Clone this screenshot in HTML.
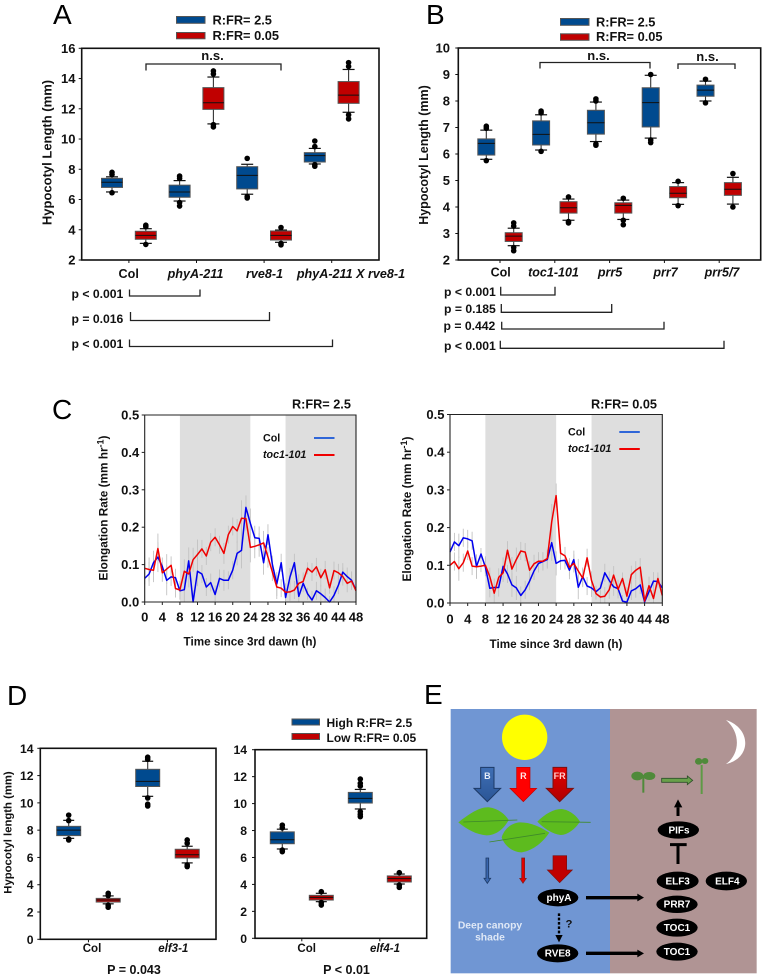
<!DOCTYPE html>
<html lang="en">
<head>
<meta charset="utf-8">
<title>Hypocotyl length figure</title>
<style>
html,body{margin:0;padding:0;background:#fff;}
svg{display:block;}
text{font-family:"Liberation Sans",Arial,sans-serif;font-weight:bold;fill:#111;}
.pl{font-size:28px;font-weight:normal;fill:#000;}
.t13{font-size:12.2px;}
.ns{font-size:13px;}
.lg{font-size:12.8px;}
.lgd{font-size:12px;}
.it{font-style:italic;}
.br{fill:none;stroke:#222;stroke-width:1.3;}
.ov{font-size:30px;fill:#fff;text-anchor:middle;}
</style>
</head>
<body>
<svg id="fig" xmlns="http://www.w3.org/2000/svg" width="762" height="979" viewBox="0 0 762 979">

<!-- Panel letters -->
<text class="pl" x="53" y="24">A</text>
<text class="pl" x="426" y="24">B</text>
<text class="pl" x="52" y="419">C</text>
<text class="pl" x="7" y="705">D</text>
<text class="pl" x="424" y="704">E</text>

<!-- Panel A annotations -->
<g>
<rect x="176.500" y="16.500" width="28.500" height="6.800" fill="#004a8f" stroke="#555"/>
<rect x="176.500" y="32.500" width="28.500" height="6.300" fill="#c00000" stroke="#555"/>
<text class="lg" x="212.500" y="24.500">R:FR= 2.5</text>
<text class="lg" x="212.500" y="40">R:FR= 0.05</text>
<path class="br" d="M146 70.500V64H281V70.500"/>
<text class="ns" x="212.500" y="60" text-anchor="middle">n.s.</text>
<text class="t13" x="71.500" y="298">p &lt; 0.001</text>
<text class="t13" x="71.500" y="323">p = 0.016</text>
<text class="t13" x="71.500" y="348">p &lt; 0.001</text>
<path class="br" d="M129.500 289.500V296H200V289.500"/>
<path class="br" d="M130.500 312V320.500H269.500V312"/>
<path class="br" d="M129.500 339.500V346.500H332.500V339.500"/>
</g>

<!-- Panel B annotations -->
<g>
<rect x="560.500" y="18.500" width="28.500" height="6.800" fill="#004a8f" stroke="#555"/>
<rect x="560.500" y="33.800" width="28.500" height="6.500" fill="#c00000" stroke="#555"/>
<text class="lg" x="596" y="26.500">R:FR= 2.5</text>
<text class="lg" x="596" y="41">R:FR= 0.05</text>
<path class="br" d="M540 68.500V62.500H650V68.500"/>
<path class="br" d="M678 69V64H735V69"/>
<text class="ns" x="598.500" y="60" text-anchor="middle">n.s.</text>
<text class="ns" x="707.500" y="61" text-anchor="middle">n.s.</text>
<text class="t13" x="444" y="296">p &lt; 0.001</text>
<text class="t13" x="444" y="313">p = 0.185</text>
<text class="t13" x="443.500" y="330">p = 0.442</text>
<text class="t13" x="444" y="350">p &lt; 0.001</text>
<path class="br" d="M500.700 286.700V295H555V286.700"/>
<path class="br" d="M501.300 304V312.300H611.700V304"/>
<path class="br" d="M501.700 321.700V329H664V321.700"/>
<path class="br" d="M500.300 340.700V348.300H724V340.700"/>
</g>

<!-- Panel D annotations -->
<g>
<rect x="292" y="719" width="27.500" height="6" fill="#004a8f" stroke="#555"/>
<rect x="292" y="733.500" width="27.500" height="6" fill="#c00000" stroke="#555"/>
<text class="lgd" x="326.500" y="727">High R:FR= 2.5</text>
<text class="lgd" x="326.500" y="742">Low R:FR= 0.05</text>
<text x="134" y="974" font-size="12.5" text-anchor="middle">P = 0.043</text>
<text x="346.500" y="974" font-size="12.5" text-anchor="middle">P &lt; 0.01</text>
</g>

<!-- Panel E diagram, drawn at 3x and scaled down -->
<g transform="translate(430,690) scale(0.33333)">
<defs>
<linearGradient id="bArrow" x1="0" y1="0" x2="0" y2="1"><stop offset="0" stop-color="#3f6fb5"/><stop offset="1" stop-color="#2a5596"/></linearGradient>
<linearGradient id="fArrow" x1="0" y1="0" x2="0" y2="1"><stop offset="0" stop-color="#e00000"/><stop offset="1" stop-color="#b00000"/></linearGradient>
</defs>
<rect x="62" y="57" width="478" height="793" fill="#7096d3"/>
<rect x="540" y="57" width="440" height="793" fill="#b09494"/>
<circle cx="284" cy="142" r="68" fill="#ffff00"/>
<path d="M888 90C965 115 965 205 888 222C928 195 935 130 888 90Z" fill="#fff"/>

<path d="M152 232H192V295H212L172 335L132 295H152Z" fill="url(#bArrow)" stroke="#1d3a66" stroke-width="3"/>
<path d="M260 232H300V295H320L280 335L240 295H260Z" fill="#ff0000" stroke="#c00000" stroke-width="2"/>
<path d="M369 232H410V295H430L389 335L349 295H369Z" fill="url(#fArrow)" stroke="#7a1010" stroke-width="3"/>
<text x="172" y="267" font-size="27" text-anchor="middle" style="fill:#e6edf8">B</text>
<text x="280" y="267" font-size="27" text-anchor="middle" style="fill:#ffe6e6">R</text>
<text x="389" y="267" font-size="27" text-anchor="middle" style="fill:#ffd0d0">FR</text>

<g>
<path d="M85 397C120 370 150 350 178 352C205 356 225 372 236 390C220 420 195 436 170 436C140 434 110 418 85 397Z" fill="#5dbb1e"/>
<path d="M100 396L262 390" stroke="#3f8a2a" stroke-width="2.500"/>
<path d="M358 428C330 410 300 396 268 397C240 400 222 420 215 442C225 470 250 487 275 487C310 482 340 455 358 428Z" fill="#5dbb1e"/>
<path d="M178 456L345 430" stroke="#3f8a2a" stroke-width="2.500"/>
<path d="M322 395C345 372 370 357 395 357C420 360 440 378 450 395C435 418 412 435 392 435C365 432 342 415 322 395Z" fill="#5dbb1e"/>
<path d="M335 395L482 397" stroke="#3f8a2a" stroke-width="2.500"/>
</g>

<path d="M168 504H176V565H182L172 580L162 565H168Z" fill="#3a66ad" stroke="#1d3a66" stroke-width="2.500"/>
<path d="M275 504H284V565H289L279 580L269 565H275Z" fill="#e00000" stroke="#7a2020" stroke-width="2"/>
<path d="M369 497H410V540H427L389 578L352 540H369Z" fill="#c00000" stroke="#7a1010" stroke-width="2"/>

<g>
<path d="M640 255V308" stroke="#4f8a3a" stroke-width="6"/>
<ellipse cx="622" cy="258" rx="18" ry="13" fill="#4f8a3a"/>
<ellipse cx="658" cy="258" rx="18" ry="12" fill="#4f8a3a"/>
<path d="M815 225V312" stroke="#5e9a45" stroke-width="6"/>
<ellipse cx="806" cy="214" rx="11" ry="10" fill="#4f8a3a"/>
<ellipse cx="825" cy="213" rx="10" ry="9" fill="#4f8a3a"/>
<path d="M695 265H772V258L788 271L772 284V277H695Z" fill="#68a04a" stroke="#2e4f2a" stroke-width="2.500"/>
</g>

<g>
<path d="M744 378V352" stroke="#000" stroke-width="9"/>
<path d="M732 352H757L744 328Z" fill="#000"/>
<path d="M744 522V464M720 464H770" stroke="#000" stroke-width="9" fill="none"/>
<path d="M468 623H628" stroke="#000" stroke-width="10"/>
<path d="M622 611L642 623L622 634Z" fill="#000"/>
<path d="M468 790H628" stroke="#000" stroke-width="10"/>
<path d="M622 779L642 790L622 802Z" fill="#000"/>
<path d="M387 670V735" stroke="#000" stroke-width="7" stroke-dasharray="8 5"/>
<path d="M376 735H398L387 757Z" fill="#000"/>
<text x="417" y="712" font-size="34" text-anchor="middle">?</text>
</g>

<g>
<ellipse cx="384" cy="623" rx="61" ry="26" fill="#000"/>
<text class="ov" x="387" y="633">phyA</text>
<ellipse cx="383" cy="790" rx="62" ry="27" fill="#000"/>
<text class="ov" x="383" y="800">RVE8</text>
<ellipse cx="745" cy="420" rx="62" ry="26" fill="#000"/>
<text class="ov" x="747" y="430">PIFs</text>
<ellipse cx="743" cy="573" rx="63" ry="28" fill="#000"/>
<text class="ov" x="743" y="583">ELF3</text>
<ellipse cx="889" cy="573" rx="62" ry="28" fill="#000"/>
<text class="ov" x="892" y="583">ELF4</text>
<ellipse cx="741" cy="643" rx="62" ry="26" fill="#000"/>
<text class="ov" x="741" y="653">PRR7</text>
<ellipse cx="741" cy="713" rx="62" ry="27" fill="#000"/>
<text class="ov" x="741" y="723">TOC1</text>
<ellipse cx="741" cy="785" rx="62" ry="27" fill="#000"/>
<text class="ov" x="741" y="795">TOC1</text>
</g>

<text x="180" y="715" font-size="31" text-anchor="middle" style="fill:#dfe8f6">Deep canopy</text>
<text x="180" y="752" font-size="31" text-anchor="middle" style="fill:#dfe8f6">shade</text>
</g>
</svg>

<script>
// ===== Panel A data: each array alternates high, low R:FR per genotype =====
const aCategories = ['Col', 'phyA-211', 'rve8-1', 'phyA-211 X rve8-1'];
const aTicks = [2, 4, 6, 8, 10, 12, 14, 16];
const aQ1 = [6.8, 3.37, 6.15, 11.96, 6.7, 3.32, 8.48, 12.36];
const aMed = [7.14, 3.63, 6.5, 12.4, 7.6, 3.63, 8.9, 12.9];
const aQ3 = [7.4, 3.9, 6.95, 13.4, 8.17, 3.92, 9.1, 13.8];
const aLo = [6.5, 3.1, 5.9, 11, 6.35, 3.17, 8.35, 11.77];
const aHi = [7.5, 4.07, 7.25, 14.1, 8.33, 3.98, 9.38, 14.6];
const aOut = [[6.45, 7.65, 7.8], [3.03, 4.2, 4.3], [5.8, 5.57, 7.4, 7.55], [10.95, 10.8, 14.3, 14.5], [6.2, 6.1, 8.72], [3, 3.1, 4.15], [8.2, 8.3, 9.5, 9.87], [11.6, 11.33, 14.8, 15.05]];

// ===== Panel B data =====
const bCategories = ['Col', 'toc1-101', 'prr5', 'prr7', 'prr5/7'];
const bTicks = [2, 3, 4, 5, 6, 7, 8, 9, 10];
const bQ1 = [5.96, 2.7, 6.34, 3.77, 6.75, 3.77, 7.02, 4.35, 8.18, 4.44];
const bMed = [6.4, 2.9, 6.74, 3.97, 7.18, 4.06, 7.94, 4.52, 8.41, 4.67];
const bQ3 = [6.57, 3.03, 7.25, 4.2, 7.65, 4.16, 8.5, 4.77, 8.6, 4.92];
const bLo = [5.8, 2.54, 6.15, 3.5, 6.47, 3.53, 6.6, 4.1, 8, 4.11];
const bHi = [6.9, 3.2, 7.48, 4.3, 7.96, 4.26, 8.97, 4.92, 8.75, 5.12];
const bOut = [[5.75, 6.97, 7.05], [2.47, 2.35, 3.28, 3.4], [6.1, 7.55, 7.62], [3.4, 3.45, 4.38], [6.38, 6.33, 8, 8.08], [3.33, 3.5, 4.33], [6.53, 6.43, 9], [4.05, 4.97], [7.93, 8.82], [4, 5.26]];

// ===== Panel C data: hourly elongation rate, 0-48 h =====
const cTicks = [0, 0.1, 0.2, 0.3, 0.4, 0.5];
const cHourTicks = [0, 4, 8, 12, 16, 20, 24, 28, 32, 36, 40, 44, 48];
const c1Col = [.063,.075,.105,.12,.095,.058,.067,.065,.03,.033,.11,0,.082,.075,.04,.052,.02,.063,.058,.058,.085,.13,.138,.253,.21,.172,.17,.105,.18,.1,.048,.105,.012,.067,.105,.015,.05,.022,.005,.03,.022,.012,0,.018,.045,.08,.068,.058,.032];
const c1Toc = [.09,.087,.085,.143,.078,.088,.098,.036,.032,.082,.075,.113,.127,.142,.123,.16,.173,.153,.13,.18,.202,.19,.224,.223,.146,.149,.153,.158,.12,.08,.04,.037,.026,.027,.032,.05,.055,.09,.08,.094,.065,.086,.038,.084,.078,.068,.05,.056,.03];
const c1Err = [.02,.04,.04,.05,.03,.05,.03,.03,.03,.04,.045,.04,.05,.03,.03,.03,.03,.03,.035,.03,.03,.04,.06,.04,.05,.04,.04,.04,.035,.03,.04,.03,.03,.03,.03,.03,.03,.02,.03,.03,.03,.03,.02,.03,.03,.03,.03,.03,.02];
const c2Col = [.135,.162,.152,.173,.17,.165,.097,.13,.095,.039,.041,.041,.097,.077,.048,.04,.02,.035,.058,.085,.105,.11,.115,.16,.105,.112,.113,.087,.115,.042,.07,.045,.04,.03,.04,.08,.06,.043,.038,.005,.002,.032,.038,.048,.003,.03,.058,.057,.04];
const c2Toc = [.1,.11,.091,.107,.138,.098,.096,.098,.1,.07,.026,.068,.08,.14,.09,.115,.138,.135,.087,.104,.111,.111,.118,.215,.285,.132,.125,.095,.105,.085,.066,.12,.06,.025,.016,.018,.035,.074,.036,.065,.018,.075,.087,.095,.005,.046,.012,.065,.02];
const c2Err = [.03,.03,.04,.03,.03,.03,.04,.02,.03,.03,.03,.03,.03,.03,.04,.04,.03,.03,.03,.03,.03,.03,.03,.06,.04,.03,.03,.03,.03,.04,.03,.03,.03,.02,.02,.03,.03,.03,.03,.02,.03,.03,.03,.03,.02,.03,.03,.02,.02];

// ===== Panel D data =====
const dTicks = [0, 2, 4, 6, 8, 10, 12, 14];
const d1Categories = ['Col', 'elf3-1'];
const d1Q1 = [7.6, 2.73, 11.2, 5.96];
const d1Med = [8, 2.88, 11.58, 6.2];
const d1Q3 = [8.28, 3, 12.46, 6.6];
const d1Lo = [7.4, 2.6, 10.48, 5.6];
const d1Hi = [8.72, 3.18, 13.05, 6.82];
const d1Out = [[7.28, 7.35, 8.7, 9.1], [2.35, 2.5, 3.2, 3.37], [10.36, 9.77, 9.9, 13.2, 13.35], [5.33, 5.45, 7.04, 7.28]];
const d2Categories = ['Col', 'elf4-1'];
const d2Q1 = [7.02, 2.84, 10.04, 4.18];
const d2Med = [7.32, 3.04, 10.39, 4.43];
const d2Q3 = [7.9, 3.19, 10.83, 4.63];
const d2Lo = [6.63, 2.72, 9.6, 4.03];
const d2Hi = [8.1, 3.34, 11.05, 4.77];
const d2Out = [[6.43, 6.55, 8.2, 8.4], [2.47, 2.65, 3.46], [9.03, 9.2, 9.4, 11.3, 11.5, 11.82], [3.78, 3.95, 4.87]];

const NS = 'http://www.w3.org/2000/svg';
const fig = document.getElementById('fig');
const BLUE = '#004a8f', RED = '#c00000';

function svgEl(parent, tag, attrs, txt) {
  const el = document.createElementNS(NS, tag);
  for (const k in attrs) el.setAttribute(k, attrs[k]);
  if (txt !== undefined) el.textContent = txt;
  parent.appendChild(el);
  return el;
}
function linScale(d0, d1, r0, r1) {
  return function (v) { return r0 + (v - d0) * (r1 - r0) / (d1 - d0); };
}

function boxPlot(cfg) {
  const g = svgEl(fig, 'g', {});
  
  
  const y = linScale(cfg.ticks[0], cfg.ticks[cfg.ticks.length - 1], cfg.bottom, cfg.top);
  const first = cfg.firstBox, step = cfg.boxStep;
  // boxes
  cfg.q1.forEach(function (q, i) {
    const cx = first + step * i;
    const color = i % 2 === 0 ? BLUE : RED;
    const bg = svgEl(g, 'g', {});
    
    
    const w = cfg.boxW, cap = cfg.capW;
    svgEl(bg, 'line', { x1: cx, x2: cx, y1: y(cfg.lo[i]), y2: y(cfg.hi[i]), stroke: '#333', 'stroke-width': 1.1 });
    svgEl(bg, 'line', { x1: cx - cap / 2, x2: cx + cap / 2, y1: y(cfg.lo[i]), y2: y(cfg.lo[i]), stroke: '#111', 'stroke-width': 1.2 });
    svgEl(bg, 'line', { x1: cx - cap / 2, x2: cx + cap / 2, y1: y(cfg.hi[i]), y2: y(cfg.hi[i]), stroke: '#111', 'stroke-width': 1.2 });
    svgEl(bg, 'rect', { x: cx - w / 2, y: y(cfg.q3[i]), width: w, height: y(q) - y(cfg.q3[i]), fill: color, stroke: '#555', 'stroke-width': 1 });
    svgEl(bg, 'line', { x1: cx - w / 2, x2: cx + w / 2, y1: y(cfg.med[i]), y2: y(cfg.med[i]), stroke: '#111', 'stroke-width': 1 });
    cfg.out[i].forEach(function (v) {
      svgEl(bg, 'circle', { cx: cx, cy: y(v), r: 2.8, fill: '#000' });
    });
  });
  // frame
  const frame = svgEl(g, 'rect', { x: cfg.left, y: cfg.top, width: cfg.right - cfg.left, height: cfg.bottom - cfg.top, fill: 'none', stroke: '#111', 'stroke-width': 1.6 });
  
  
  // y ticks
  cfg.ticks.forEach(function (t) {
    svgEl(g, 'line', { x1: cfg.left - 3, x2: cfg.left, y1: y(t), y2: y(t), stroke: '#111', 'stroke-width': 1 });
    const lab = svgEl(g, 'text', { x: cfg.tickRight, y: y(t) + cfg.tickDy, 'text-anchor': 'end', 'font-size': cfg.tickSize }, String(t));
    
    
  });
  // categories
  cfg.categories.forEach(function (c, i) {
    const tx = first + step * (2 * i + 0.5);
    svgEl(g, 'line', { x1: tx, x2: tx, y1: cfg.bottom, y2: cfg.bottom + 3, stroke: '#111', 'stroke-width': 1 });
    const lab = svgEl(g, 'text', { x: cfg.labelX[i], y: cfg.labelY, 'text-anchor': 'middle', 'font-size': cfg.labelSize }, c);
    if (i > 0) lab.setAttribute('class', 'it');
    
    
  });
  if (cfg.yTitle) {
    const yt = svgEl(g, 'text', { transform: 'translate(' + cfg.yTitleX + ',' + cfg.yTitleY + ') rotate(-90)', 'text-anchor': 'middle', 'font-size': cfg.yTitleSize }, cfg.yTitle);
    
    
  }
}

boxPlot({ name: 'panel-a-boxplot', categories: aCategories, ticks: aTicks, q1: aQ1, med: aMed, q3: aQ3, lo: aLo, hi: aHi, out: aOut,
  left: 81.7, right: 379, top: 48.3, bottom: 260, firstBox: 112, boxStep: 33.8, boxW: 21, capW: 12, tickRight: 75.5, tickDy: 4.5, tickSize: 13, labelSize: 12.6,
  labelX: [128.7, 195.5, 264.5, 351], labelY: 278, yTitle: 'Hypocotyl Length (mm)', yTitleX: 51.7, yTitleY: 152.5, yTitleSize: 13 });

boxPlot({ name: 'panel-b-boxplot', categories: bCategories, ticks: bTicks, q1: bQ1, med: bMed, q3: bQ3, lo: bLo, hi: bHi, out: bOut,
  left: 458.3, right: 760.7, top: 48, bottom: 260, firstBox: 486.3, boxStep: 27.4, boxW: 17, capW: 12, tickRight: 450, tickDy: 4.5, tickSize: 13, labelSize: 12.5,
  labelX: [500.7, 553.5, 610, 665.5, 722], labelY: 276.5, yTitle: 'Hypocotyl Length (mm)', yTitleX: 428, yTitleY: 155, yTitleSize: 12.5 });

boxPlot({ name: 'panel-d-boxplot-elf3', categories: d1Categories, ticks: dTicks, q1: d1Q1, med: d1Med, q3: d1Q3, lo: d1Lo, hi: d1Hi, out: d1Out,
  left: 40.3, right: 216, top: 748.3, bottom: 939.3, firstBox: 68.7, boxStep: 39.5, boxW: 24, capW: 11, tickRight: 33.5, tickDy: 4.5, tickSize: 12.2, labelSize: 11.5,
  labelX: [92, 173.3], labelY: 952, yTitle: 'Hypocotyl length (mm)', yTitleX: 11.5, yTitleY: 832.5, yTitleSize: 11.3 });

boxPlot({ name: 'panel-d-boxplot-elf4', categories: d2Categories, ticks: dTicks, q1: d2Q1, med: d2Med, q3: d2Q3, lo: d2Lo, hi: d2Hi, out: d2Out,
  left: 255, right: 426.7, top: 749.7, bottom: 938.3, firstBox: 282.3, boxStep: 39, boxW: 24, capW: 11, tickRight: 247, tickDy: 4.5, tickSize: 12.2, labelSize: 11.5,
  labelX: [306.7, 385], labelY: 952, yTitle: null });

function rateChart(cfg) {
  const g = svgEl(fig, 'g', {});
  
  
  const x = linScale(0, 48, cfg.left, cfg.right);
  const y = linScale(0, 0.5, cfg.bottom, cfg.top);
  [[8, 24], [32, 48]].forEach(function (b) {
    const band = svgEl(g, 'rect', { x: x(b[0]), y: cfg.top, width: x(b[1]) - x(b[0]), height: cfg.bottom - cfg.top, fill: '#dedede' });
    
    
  });
  // error bars: symmetric around each series
  const eb = svgEl(g, 'g', {});
  
  
  cfg.err.forEach(function (e, i) {
    [cfg.col[i], cfg.toc[i]].forEach(function (v) {
      svgEl(eb, 'line', { x1: x(i), x2: x(i), y1: y(Math.max(0, v - e * 0.8)), y2: y(v + e * 0.8), stroke: '#c2c2c2', 'stroke-width': 0.9 });
    });
  });
  function series(vals, color, nm) {
    const pts = vals.map(function (v, i) { return x(i).toFixed(1) + ',' + y(v).toFixed(1); }).join(' ');
    const line = svgEl(g, 'polyline', { points: pts, fill: 'none', stroke: color, 'stroke-width': 1.5, 'stroke-linejoin': 'round' });
    
    
  }
  series(cfg.col, '#0000f0', 'series-col');
  series(cfg.toc, '#f00000', 'series-toc1-101');
  // axes
  const axes = svgEl(g, 'path', { d: 'M' + cfg.left + ' ' + cfg.top + 'V' + cfg.bottom + 'H' + cfg.right + 'V' + cfg.top + 'Z', fill: 'none', stroke: '#222', 'stroke-width': 1.1 });
  
  
  cTicks.forEach(function (t) {
    svgEl(g, 'line', { x1: cfg.left - 3, x2: cfg.left, y1: y(t), y2: y(t), stroke: '#222', 'stroke-width': 1 });
    const lab = svgEl(g, 'text', { x: cfg.left - 5.5, y: y(t) + 4.5, 'text-anchor': 'end', 'font-size': 13 }, t.toFixed(1));
    
    
  });
  cHourTicks.forEach(function (t) {
    svgEl(g, 'line', { x1: x(t), x2: x(t), y1: cfg.bottom, y2: cfg.bottom + 3, stroke: '#222', 'stroke-width': 1 });
    const lab = svgEl(g, 'text', { x: x(t), y: cfg.xLabelY, 'text-anchor': 'middle', 'font-size': 13 }, String(t));
    
    
  });
  const xt = svgEl(g, 'text', { x: cfg.xTitleX, y: cfg.xTitleY, 'text-anchor': 'middle', 'font-size': 11.7 }, 'Time since 3rd dawn (h)');
  
  
  const yt = svgEl(g, 'text', { transform: 'translate(' + cfg.yTitleX + ',' + cfg.yTitleY + ') rotate(-90)', 'text-anchor': 'middle', 'font-size': 11.8 }, 'Elongation Rate (mm hr');
  const sup = svgEl(yt, 'tspan', { dy: -4, 'font-size': 9 }, '-1');
  const close = svgEl(yt, 'tspan', { dy: 4 }, ')');
  
  
  
  
  
  
  const title = svgEl(g, 'text', { x: cfg.titleX, y: 408.5, 'font-size': 12.7 }, cfg.title);
  
  
  // legend
  const l1 = svgEl(g, 'text', { x: cfg.legX, y: cfg.legY1 + 3.7, 'font-size': 10.7 }, 'Col');
  
  
  const l2 = svgEl(g, 'text', { x: cfg.legX, y: cfg.legY2 + 3, 'font-size': 10.7, 'class': 'it' }, 'toc1-101');
  
  
  const s1 = svgEl(g, 'line', { x1: cfg.legL, x2: cfg.legL + 20.5, y1: cfg.legY1, y2: cfg.legY1, stroke: '#2f66d8', 'stroke-width': 2 });
  
  
  const s2 = svgEl(g, 'line', { x1: cfg.legL, x2: cfg.legL + 20.5, y1: cfg.legY2, y2: cfg.legY2, stroke: '#f00000', 'stroke-width': 2 });
  
  
}

rateChart({ name: 'panel-c-rate-chart-high', col: c1Col, toc: c1Toc, err: c1Err, left: 144.7, right: 356, top: 415, bottom: 602,
  xLabelY: 621.7, xTitleX: 250, xTitleY: 645.5, yTitleX: 107.5, yTitleY: 508, title: 'R:FR= 2.5', titleX: 292,
  legX: 263, legL: 314, legY1: 438, legY2: 455 });
rateChart({ name: 'panel-c-rate-chart-low', col: c2Col, toc: c2Toc, err: c2Err, left: 450, right: 662.3, top: 414.5, bottom: 603,
  xLabelY: 623.3, xTitleX: 556, xTitleY: 648, yTitleX: 411, yTitleY: 509, title: 'R:FR= 0.05', titleX: 591,
  legX: 568, legL: 619.3, legY1: 432, legY2: 449 });
</script>
</body>
</html>
